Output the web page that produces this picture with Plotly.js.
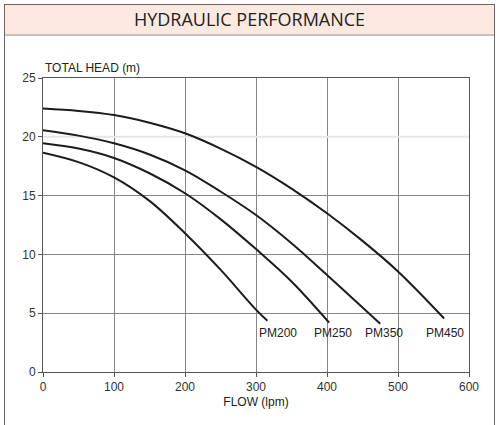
<!DOCTYPE html>
<html>
<head>
<meta charset="utf-8">
<script src="https://cdn.plot.ly/plotly-3.0.1.min.js"></script>
<style>
  html, body { margin: 0; padding: 0; background: #fff; }
  #frame {
    position: absolute; left: 4px; top: 4px; width: 491px; height: 440px;
    border: 1.5px solid #6e6666; box-sizing: border-box;
  }
  #band {
    position: absolute; left: 0; top: 0; right: 0; height: 29px;
    background: #fde9df; border-bottom: 2px solid #c4c0bc;
    font-family: 'Open Sans', 'Noto Sans', sans-serif; font-size: 18px;
    color: #222; text-align: center; line-height: 28px;
  }
  #chart { position: absolute; left: 0; top: 0; width: 500px; height: 425px; }
</style>
</head>
<body>
<div id="frame"><div id="band">HYDRAULIC PERFORMANCE</div></div>
<div id="chart"></div>
<script>
(function () {
  'use strict';

  // Curves: flow in lpm, head in m
  var pumpNames = ['PM200', 'PM250', 'PM350', 'PM450'];

  var pm200Flow = [0, 50, 100, 150, 200, 250, 300, 316];
  var pm200Head = [18.65, 17.85, 16.55, 14.55, 11.8, 8.7, 5.3, 4.35];

  var pm250Flow = [0, 50, 100, 150, 200, 250, 300, 350, 403];
  var pm250Head = [19.45, 19.0, 18.2, 16.9, 15.2, 13.0, 10.45, 7.7, 4.2];

  var pm350Flow = [0, 50, 100, 150, 200, 250, 300, 350, 400, 475];
  var pm350Head = [20.55, 20.1, 19.45, 18.5, 17.15, 15.35, 13.35, 10.95, 8.25, 4.1];

  var pm450Flow = [0, 50, 100, 150, 200, 250, 300, 350, 400, 450, 500, 565];
  var pm450Head = [22.4, 22.2, 21.85, 21.2, 20.3, 19.0, 17.45, 15.6, 13.5, 11.15, 8.55, 4.55];

  var flowTicks = [0, 100, 200, 300, 400, 500, 600];
  var headTicks = [0, 5, 10, 15, 20, 25];

  var FONT = 'Liberation Sans, Arial, sans-serif';
  var LINE = '#1c1c1c';
  var GRID = '#858585';
  var LABEL_HEAD = 3.3;
  var labelShift = [11, 4, 4, 1];

  var series = [
    [pm200Flow, pm200Head],
    [pm250Flow, pm250Head],
    [pm350Flow, pm350Head],
    [pm450Flow, pm450Head]
  ];

  var traces = series.map(function (s, i) {
    return {
      x: s[0], y: s[1],
      mode: 'lines',
      line: { color: LINE, width: 2, shape: 'spline', smoothing: 1 },
      name: pumpNames[i],
      hoverinfo: 'skip'
    };
  });

  var annotations = series.map(function (s, i) {
    return {
      x: s[0][s[0].length - 1], y: LABEL_HEAD,
      text: pumpNames[i],
      showarrow: false,
      xanchor: 'center', yanchor: 'middle',
      xshift: labelShift[i],
      font: { family: FONT, size: 12, color: '#222' }
    };
  });
  annotations.push({
    xref: 'paper', yref: 'paper', x: 0, y: 1,
    xanchor: 'left', yanchor: 'bottom', yshift: 1,
    text: 'TOTAL HEAD (m)', showarrow: false,
    font: { family: FONT, size: 12, color: '#222' }
  });

  var axisBase = {
    ticks: 'outside', ticklen: 4, tickcolor: '#555',
    showline: true, linecolor: '#555', linewidth: 1, mirror: true,
    gridcolor: GRID, gridwidth: 1, zeroline: false,
    tickfont: { family: FONT, size: 12, color: '#333' }
  };

  var layout = {
    width: 500, height: 425,
    margin: { l: 43, r: 31, t: 78, b: 53, pad: 0 },
    paper_bgcolor: 'rgba(0,0,0,0)',
    plot_bgcolor: '#fff',
    showlegend: false,
    xaxis: Object.assign({}, axisBase, {
      range: [0, 600], tickvals: flowTicks,
      title: { text: 'FLOW (lpm)', standoff: 4, font: { family: FONT, size: 12, color: '#222' } }
    }),
    yaxis: Object.assign({}, axisBase, {
      range: [0, 25], tickvals: headTicks
    }),
    // the 20 m grid line is much fainter on the sheet
    shapes: [{
      type: 'line', xref: 'x', yref: 'y', x0: 0, x1: 600, y0: 20, y1: 20,
      line: { color: '#e6e6e6', width: 2 }, layer: 'between'
    }],
    annotations: annotations
  };

  Plotly.newPlot('chart', traces, layout, { displayModeBar: false, staticPlot: true });
})();
</script>
</body>
</html>
